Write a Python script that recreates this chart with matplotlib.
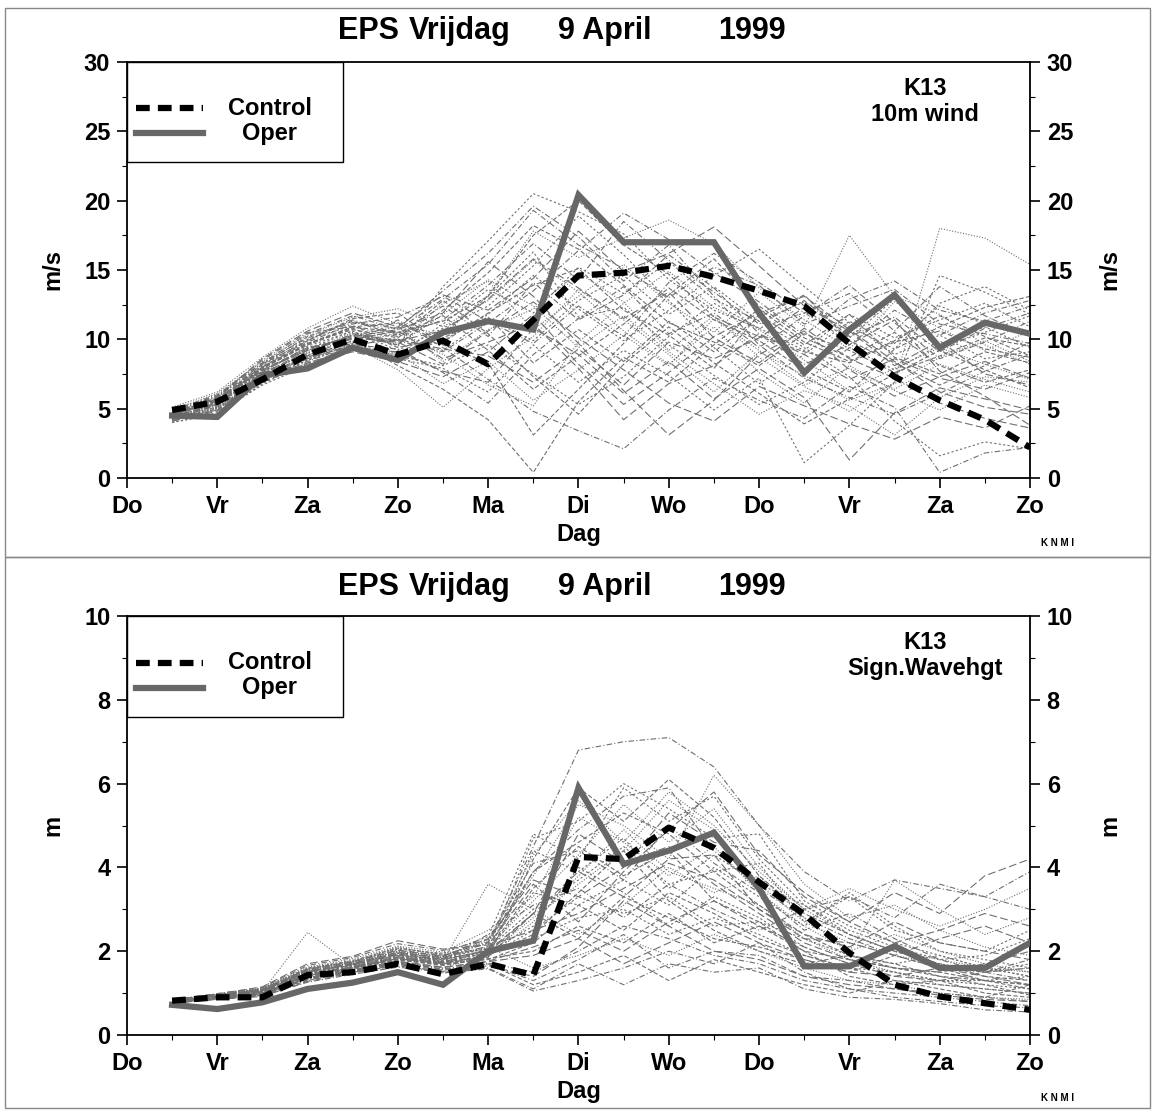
import matplotlib
matplotlib.use("Agg")
import matplotlib.pyplot as plt
from matplotlib.lines import Line2D
from matplotlib.patches import Rectangle
import numpy as np

plt.rcParams['font.family'] = ['Liberation Sans', 'DejaVu Sans']
plt.rcParams['font.weight'] = 'bold'
plt.rcParams['axes.labelweight'] = 'bold'

# time axis: half-day steps from Thursday (0) to the next Sunday (10)
days = ['Do', 'Vr', 'Za', 'Zo', 'Ma', 'Di', 'Wo', 'Do', 'Vr', 'Za', 'Zo']
steps = [0.5, 1.0, 1.5, 2.0, 2.5, 3.0, 3.5, 4.0, 4.5, 5.0,
         5.5, 6.0, 6.5, 7.0, 7.5, 8.0, 8.5, 9.0, 9.5, 10.0]

title_words = ['EPS', 'Vrijdag', '9 April', '1999']

# 10m wind (m/s)
wind_control = [4.9, 5.5, 7.1, 8.9, 10.0, 8.9, 9.9, 8.2, 11.4, 14.6,
                14.8, 15.3, 14.5, 13.5, 12.4, 9.7, 7.3, 5.6, 4.2, 2.2]
wind_oper = [4.5, 4.4, 7.4, 7.9, 9.4, 8.5, 10.5, 11.3, 10.7, 20.4,
             17.0, 17.0, 17.0, 11.9, 7.6, 10.7, 13.2, 9.4, 11.2, 10.4]
wind_members = [
    [4.6, 5.5, 7.8, 9.2, 10.3, 9.6, 12.1, 14.8, 18.2, 16.5, 13.9, 11.2, 9.8, 8.1, 10.4, 9.2, 7.6, 8.8, 10.1, 9.5],
    [4.3, 5.1, 7.2, 8.6, 9.8, 10.4, 8.9, 6.7, 5.2, 9.8, 12.6, 14.9, 12.3, 10.7, 8.5, 6.3, 7.9, 9.4, 8.2, 7.1],
    [4.9, 6.0, 8.3, 10.1, 11.2, 10.8, 13.5, 16.2, 19.6, 17.4, 14.2, 16.8, 13.1, 9.6, 7.2, 5.8, 4.6, 6.1, 7.7, 8.9],
    [4.1, 4.8, 6.9, 8.2, 9.1, 8.4, 7.3, 9.1, 11.8, 8.2, 5.3, 7.6, 10.2, 11.9, 13.1, 10.7, 8.4, 6.2, 5.1, 4.6],
    [4.5, 5.7, 7.6, 9.5, 10.6, 9.2, 10.8, 12.4, 15.3, 18.9, 16.1, 12.8, 9.4, 6.8, 8.9, 11.3, 9.7, 12.4, 11.1, 10.3],
    [4.7, 5.3, 8.0, 9.9, 11.5, 11.9, 9.6, 8.3, 3.1, 6.4, 9.7, 13.2, 15.8, 12.4, 10.1, 8.7, 10.5, 8.1, 6.9, 7.8],
    [4.2, 5.0, 7.1, 8.9, 9.5, 7.8, 5.1, 7.9, 10.2, 13.6, 11.4, 8.9, 6.2, 9.1, 7.4, 5.6, 6.8, 8.7, 9.9, 8.4],
    [4.8, 5.9, 8.5, 10.5, 10.9, 10.2, 11.4, 13.9, 16.9, 14.3, 18.5, 15.7, 13.4, 11.1, 12.8, 10.2, 11.6, 9.1, 10.8, 11.9],
    [4.4, 5.4, 7.4, 8.8, 10.1, 9.8, 8.2, 10.6, 12.7, 10.1, 7.8, 5.4, 4.1, 6.6, 5.2, 3.9, 2.8, 4.4, 3.6, 5.2],
    [4.0, 4.7, 6.7, 8.1, 9.3, 8.9, 9.9, 11.8, 14.6, 12.2, 9.9, 12.1, 14.6, 16.5, 13.8, 11.2, 8.9, 10.3, 8.6, 9.1],
    [4.6, 5.6, 7.9, 9.7, 10.7, 10.1, 12.8, 10.4, 7.3, 4.6, 8.2, 10.9, 8.3, 6.1, 3.9, 5.7, 7.5, 9.2, 7.8, 6.5],
    [5.1, 6.2, 8.7, 10.8, 12.4, 11.1, 10.3, 13.2, 17.8, 15.9, 17.3, 18.6, 16.9, 13.7, 11.4, 9.3, 12.7, 10.8, 9.2, 10.6],
    [4.3, 5.2, 7.0, 8.4, 9.6, 9.3, 7.6, 5.4, 8.9, 11.5, 13.8, 10.4, 11.9, 9.4, 11.7, 13.9, 11.2, 8.6, 9.8, 11.3],
    [4.5, 5.8, 7.7, 9.3, 10.2, 10.7, 11.9, 15.6, 13.1, 9.7, 6.3, 3.1, 5.6, 8.9, 10.6, 7.8, 5.9, 7.3, 8.4, 7.2],
    [4.7, 5.5, 8.1, 10.0, 11.0, 9.5, 13.8, 17.1, 20.5, 19.2, 17.6, 14.3, 12.1, 10.8, 9.2, 11.8, 10.1, 11.4, 12.6, 10.9],
    [4.2, 4.9, 7.3, 8.7, 9.9, 8.1, 6.4, 4.2, 0.4, 5.5, 8.7, 6.9, 9.6, 12.2, 9.8, 8.4, 9.9, 11.7, 10.2, 8.8],
    [4.9, 6.1, 8.4, 10.3, 11.6, 12.2, 10.9, 12.8, 15.7, 13.4, 10.6, 8.2, 10.9, 7.6, 5.4, 8.1, 6.3, 4.9, 6.7, 5.8],
    [4.4, 5.3, 7.5, 9.0, 10.4, 9.9, 9.1, 11.2, 13.5, 16.4, 19.1, 17.2, 14.8, 12.7, 10.3, 12.9, 14.2, 12.1, 11.3, 12.4],
    [4.6, 5.7, 7.8, 9.4, 10.0, 10.6, 8.6, 9.8, 11.1, 7.9, 4.2, 6.8, 8.1, 10.4, 8.9, 7.1, 8.6, 7.2, 6.4, 7.6],
    [4.1, 5.0, 7.0, 8.5, 9.4, 8.7, 10.4, 13.1, 16.3, 11.6, 12.3, 9.6, 7.4, 5.3, 6.9, 9.4, 7.8, 9.6, 10.9, 9.4],
    [4.8, 5.6, 8.2, 10.2, 11.3, 10.3, 11.7, 9.2, 6.4, 8.8, 11.1, 13.7, 11.4, 9.9, 7.8, 6.2, 9.3, 10.9, 12.3, 13.1],
    [4.3, 5.4, 7.4, 9.1, 10.5, 9.7, 12.6, 14.2, 10.7, 13.1, 15.4, 12.6, 10.5, 13.4, 10.9, 17.5, 13.1, 11.8, 9.6, 8.2],
    [4.5, 5.2, 7.6, 8.9, 9.7, 11.4, 9.4, 7.1, 4.8, 3.4, 2.1, 4.9, 7.2, 5.6, 4.3, 6.6, 5.1, 0.4, 1.8, 2.2],
    [4.7, 5.8, 8.6, 10.6, 11.9, 10.9, 13.2, 12.1, 14.4, 17.8, 14.9, 16.2, 18.1, 15.3, 12.4, 10.6, 8.1, 9.9, 7.5, 6.7],
    [4.0, 4.6, 6.8, 8.3, 9.2, 8.6, 7.9, 6.2, 9.6, 6.9, 9.2, 7.4, 4.9, 7.2, 1.1, 3.8, 6.9, 14.6, 13.4, 11.8],
    [4.6, 5.6, 7.9, 9.6, 10.8, 9.4, 10.1, 11.6, 8.3, 10.7, 8.4, 11.3, 9.1, 11.6, 13.2, 9.9, 8.3, 6.7, 8.1, 9.8],
    [4.4, 5.1, 7.3, 8.8, 10.3, 10.9, 8.4, 10.7, 12.2, 14.8, 12.7, 9.2, 11.7, 8.7, 6.6, 4.8, 6.9, 18.0, 17.3, 15.4],
    [4.8, 5.9, 8.0, 9.8, 11.1, 11.6, 13.1, 11.3, 9.7, 12.4, 10.2, 14.1, 16.2, 14.1, 11.9, 13.3, 10.6, 13.8, 11.7, 10.2],
    [4.2, 5.3, 7.1, 8.6, 9.6, 10.0, 9.3, 8.8, 6.9, 9.3, 6.7, 9.8, 8.6, 10.1, 12.3, 9.6, 11.4, 7.7, 5.9, 3.8],
    [4.6, 5.4, 7.7, 9.3, 10.6, 8.9, 11.1, 13.6, 11.9, 15.2, 13.3, 15.6, 12.9, 11.3, 9.4, 7.3, 4.1, 1.6, 2.6, 2.1],
    [4.5, 5.6, 7.9, 9.6, 10.9, 10.5, 11.3, 13.1, 17.5, 20.0, 16.8, 14.7, 11.6, 10.2, 9.1, 8.3, 9.8, 10.6, 9.3, 8.7],
    [4.3, 5.0, 7.2, 8.7, 9.5, 9.0, 6.8, 8.4, 5.6, 7.8, 10.3, 8.1, 11.5, 9.2, 6.7, 7.9, 6.4, 8.2, 7.1, 6.2],
    [4.8, 5.8, 8.2, 9.9, 11.4, 10.4, 12.4, 10.2, 14.1, 11.4, 13.2, 16.1, 13.7, 10.4, 8.2, 9.6, 12.1, 10.3, 11.9, 12.8],
    [4.6, 5.4, 7.5, 9.2, 10.1, 9.9, 10.6, 12.9, 15.8, 13.7, 11.5, 13.4, 10.1, 8.3, 10.8, 8.6, 7.2, 5.4, 4.3, 3.6],
    [4.2, 5.1, 7.1, 8.5, 9.7, 8.8, 8.1, 9.6, 7.5, 5.3, 7.3, 10.2, 12.6, 10.8, 11.9, 10.1, 12.9, 9.4, 10.5, 11.7],
    [4.7, 5.7, 8.0, 9.7, 10.9, 11.2, 9.8, 11.9, 13.9, 15.1, 12.1, 10.3, 7.9, 11.8, 9.6, 11.8, 8.7, 7.5, 9.1, 8.3],
    [4.4, 5.3, 7.6, 9.0, 10.4, 9.6, 11.8, 14.3, 12.4, 9.4, 11.7, 9.1, 6.8, 4.6, 6.3, 5.2, 3.1, 5.8, 7.3, 6.9],
    [4.9, 5.9, 8.3, 10.4, 11.7, 10.7, 12.9, 15.4, 19.3, 16.8, 15.1, 13.0, 15.2, 13.9, 11.1, 12.4, 13.6, 11.1, 10.4, 9.7],
    [4.1, 4.9, 6.9, 8.3, 9.3, 9.1, 7.7, 6.9, 10.8, 8.9, 6.1, 8.4, 5.7, 7.9, 5.8, 1.3, 4.7, 6.5, 5.7, 4.9],
    [4.5, 5.5, 7.7, 9.4, 10.2, 10.0, 9.2, 11.5, 9.9, 12.8, 14.6, 11.8, 13.8, 11.3, 12.7, 10.9, 9.3, 12.6, 13.8, 12.1],
]

# significant wave height (m)
wave_control = [0.82, 0.90, 0.90, 1.43, 1.50, 1.70, 1.45, 1.70, 1.43, 4.25,
                4.20, 4.95, 4.47, 3.65, 2.88, 1.96, 1.20, 0.92, 0.76, 0.60]
wave_oper = [0.72, 0.62, 0.78, 1.10, 1.25, 1.50, 1.20, 2.00, 2.25, 5.90,
             4.08, 4.40, 4.83, 3.50, 1.64, 1.64, 2.12, 1.60, 1.60, 2.20]
wave_members = [
    [0.80, 0.92, 1.02, 1.45, 1.62, 1.85, 1.72, 2.05, 3.9, 4.6, 5.3, 4.8, 3.9, 3.1, 2.4, 1.9, 1.6, 1.4, 1.3, 1.2],
    [0.78, 0.88, 0.95, 1.35, 1.55, 1.74, 1.60, 1.92, 2.8, 3.6, 4.4, 5.6, 4.9, 3.6, 2.7, 2.2, 1.9, 1.7, 1.5, 1.6],
    [0.83, 0.95, 1.08, 1.52, 1.70, 1.98, 1.84, 2.20, 4.5, 6.8, 7.0, 7.1, 6.4, 5.0, 3.9, 3.2, 3.7, 3.5, 3.3, 3.9],
    [0.76, 0.85, 0.92, 1.28, 1.48, 1.68, 1.55, 1.65, 1.4, 2.1, 3.2, 2.6, 2.0, 1.8, 1.4, 1.2, 1.1, 0.95, 0.85, 0.8],
    [0.81, 0.93, 1.05, 1.58, 1.75, 2.05, 1.95, 2.35, 4.8, 4.2, 5.9, 5.1, 5.7, 4.2, 3.1, 2.5, 2.1, 1.8, 1.9, 2.3],
    [0.79, 0.90, 1.00, 1.40, 1.60, 1.80, 1.68, 1.80, 2.2, 3.1, 2.5, 3.4, 2.9, 2.3, 1.9, 1.6, 1.3, 1.2, 1.1, 1.0],
    [0.82, 0.97, 1.12, 1.62, 1.82, 2.12, 1.98, 2.50, 3.3, 5.2, 4.6, 3.8, 4.5, 3.4, 2.6, 2.0, 2.4, 2.0, 1.7, 1.5],
    [0.77, 0.87, 0.98, 1.32, 1.52, 1.70, 1.48, 1.58, 1.05, 1.3, 1.6, 2.0, 1.7, 2.2, 1.5, 1.1, 0.9, 0.8, 0.7, 0.65],
    [0.84, 0.98, 1.15, 1.70, 1.88, 2.25, 2.05, 2.15, 3.6, 2.7, 3.9, 4.9, 5.8, 4.3, 3.4, 2.7, 2.2, 2.5, 2.9, 2.6],
    [0.80, 0.91, 1.03, 1.47, 1.64, 1.88, 1.76, 1.98, 2.6, 4.0, 3.4, 2.6, 3.3, 2.8, 2.1, 1.7, 1.5, 1.3, 1.2, 1.1],
    [0.78, 0.89, 1.01, 1.39, 1.58, 1.79, 1.66, 1.85, 4.2, 5.9, 5.1, 6.1, 5.2, 3.8, 2.9, 2.4, 2.0, 1.7, 1.4, 1.3],
    [0.83, 0.96, 1.09, 1.55, 1.72, 2.00, 1.88, 2.10, 1.6, 1.9, 2.3, 1.9, 2.4, 2.0, 1.6, 1.3, 1.2, 1.0, 0.9, 0.85],
    [0.81, 0.94, 1.06, 1.50, 1.68, 1.92, 1.80, 2.40, 3.1, 3.5, 2.8, 3.6, 3.0, 2.5, 3.0, 3.3, 2.8, 3.6, 3.3, 3.0],
    [0.79, 0.90, 1.00, 1.42, 1.60, 1.82, 1.70, 1.88, 2.9, 4.8, 4.1, 4.5, 3.6, 2.9, 2.2, 1.8, 1.6, 1.5, 1.7, 2.0],
    [0.82, 0.95, 1.10, 1.60, 1.78, 2.08, 1.92, 2.05, 4.7, 5.1, 6.0, 5.4, 4.7, 4.8, 3.2, 2.6, 2.2, 1.9, 1.6, 1.4],
    [0.77, 0.86, 0.96, 1.30, 1.50, 1.65, 1.52, 1.70, 1.2, 1.5, 1.9, 1.3, 1.8, 1.5, 1.2, 1.0, 1.3, 1.1, 0.9, 1.2],
    [0.80, 0.92, 1.04, 2.45, 1.65, 1.90, 1.78, 3.60, 3.0, 2.4, 3.1, 4.0, 3.4, 3.8, 2.8, 2.0, 3.7, 3.0, 2.4, 2.8],
    [0.84, 0.99, 1.13, 1.66, 1.85, 2.18, 2.02, 2.28, 4.1, 4.4, 3.7, 5.0, 4.1, 3.4, 2.5, 2.9, 2.3, 1.8, 1.5, 1.3],
    [0.78, 0.88, 0.99, 1.37, 1.56, 1.76, 1.62, 1.75, 1.9, 2.3, 1.7, 2.2, 2.7, 2.2, 1.8, 1.5, 1.4, 1.6, 1.4, 1.2],
    [0.81, 0.93, 1.06, 1.51, 1.69, 1.95, 1.82, 2.00, 3.4, 3.1, 3.7, 3.1, 4.0, 3.3, 2.6, 3.4, 2.6, 2.0, 1.8, 1.6],
    [0.79, 0.91, 1.02, 1.44, 1.62, 1.84, 1.73, 1.90, 2.4, 3.4, 4.4, 3.2, 2.5, 2.0, 1.7, 1.9, 1.7, 1.4, 1.2, 0.95],
    [0.83, 0.97, 1.11, 1.58, 1.76, 2.10, 1.90, 2.25, 3.8, 5.5, 5.0, 4.2, 6.2, 5.0, 3.6, 2.8, 3.1, 2.5, 2.1, 1.9],
    [0.76, 0.85, 0.94, 1.26, 1.45, 1.62, 1.50, 1.60, 1.1, 1.7, 1.2, 1.7, 1.5, 1.6, 1.1, 0.9, 0.85, 0.75, 0.6, 0.55],
    [0.82, 0.95, 1.07, 1.53, 1.71, 1.96, 1.85, 2.12, 2.5, 2.9, 3.5, 4.1, 3.7, 3.0, 2.3, 2.2, 1.9, 2.3, 2.6, 2.2],
    [0.80, 0.91, 1.03, 1.46, 1.63, 1.86, 1.74, 1.95, 4.4, 3.9, 4.7, 3.5, 4.3, 3.6, 3.1, 2.4, 2.0, 1.7, 1.5, 1.7],
    [0.79, 0.89, 1.00, 1.41, 1.59, 1.81, 1.69, 1.82, 2.0, 2.6, 2.2, 2.9, 2.2, 2.6, 2.0, 1.4, 1.2, 1.3, 1.0, 0.9],
    [0.81, 0.94, 1.08, 1.54, 1.73, 1.99, 1.86, 2.08, 3.2, 4.3, 5.5, 4.6, 5.4, 4.0, 3.0, 3.5, 3.0, 2.6, 3.0, 3.5],
    [0.78, 0.87, 0.97, 1.34, 1.53, 1.72, 1.58, 1.72, 1.5, 2.0, 2.6, 2.3, 1.9, 1.7, 1.3, 1.1, 1.0, 0.9, 0.8, 0.7],
    [0.82, 0.96, 1.09, 1.57, 1.74, 2.02, 1.88, 2.30, 3.7, 3.3, 4.0, 5.3, 4.6, 4.4, 3.3, 2.7, 3.4, 2.9, 3.8, 4.2],
    [0.80, 0.92, 1.04, 1.48, 1.66, 1.90, 1.77, 2.02, 2.3, 2.8, 3.0, 2.4, 2.8, 2.4, 1.9, 1.6, 1.5, 1.3, 1.3, 1.4],
    [0.80, 0.93, 1.05, 1.49, 1.67, 1.91, 1.79, 2.03, 3.5, 4.5, 3.8, 4.4, 3.2, 2.7, 2.0, 1.8, 1.6, 1.5, 1.3, 1.2],
    [0.79, 0.90, 1.01, 1.43, 1.61, 1.83, 1.71, 1.86, 2.7, 3.8, 4.9, 3.9, 3.5, 3.1, 2.3, 1.8, 1.5, 1.2, 1.1, 1.0],
    [0.82, 0.96, 1.09, 1.56, 1.75, 2.03, 1.89, 2.22, 3.9, 4.9, 5.7, 5.9, 4.4, 3.5, 2.8, 2.3, 1.9, 1.6, 1.5, 1.8],
    [0.78, 0.88, 0.98, 1.36, 1.54, 1.75, 1.61, 1.76, 2.1, 2.5, 2.0, 2.7, 3.2, 2.6, 2.1, 1.7, 1.4, 1.3, 1.5, 1.6],
    [0.81, 0.94, 1.07, 1.52, 1.70, 1.96, 1.83, 2.07, 3.0, 3.7, 4.5, 3.6, 3.9, 4.1, 2.7, 3.3, 2.5, 2.2, 2.0, 2.5],
    [0.80, 0.91, 1.03, 1.45, 1.63, 1.87, 1.75, 1.97, 2.9, 2.3, 3.3, 2.8, 2.3, 2.1, 1.8, 1.5, 1.9, 1.6, 1.3, 1.1],
    [0.83, 0.97, 1.10, 1.59, 1.77, 2.07, 1.93, 2.18, 4.3, 5.6, 4.6, 5.8, 5.0, 3.9, 3.0, 2.4, 2.0, 1.8, 1.6, 1.5],
    [0.77, 0.87, 0.97, 1.33, 1.51, 1.71, 1.57, 1.68, 1.3, 1.8, 2.4, 1.6, 2.0, 1.9, 1.4, 1.3, 1.1, 1.0, 0.9, 0.8],
    [0.81, 0.95, 1.06, 1.51, 1.69, 1.93, 1.81, 2.01, 2.9, 3.9, 3.3, 4.2, 4.3, 3.0, 2.4, 2.1, 2.7, 2.2, 2.0, 1.8],
    [0.80, 0.90, 1.02, 1.44, 1.61, 1.84, 1.72, 1.89, 2.5, 3.3, 2.9, 3.3, 2.6, 2.7, 2.3, 1.9, 1.7, 1.9, 1.6, 1.4],
]

member_styles = [(0, (4, 2)), (0, (1, 1.5)), (0, (5, 2, 1, 2)), (0, (7, 3)), (0, (2, 2))]
MEMBER_COL = '#6f6f6f'
OPER_COL = '#676767'
FS = 17


def draw_panel(ax, members, control, oper, ymax, ystep, yminor, unit, label):
    for i, m in enumerate(members):
        ax.plot(steps, m, color=MEMBER_COL, lw=0.8,
                linestyle=member_styles[i % len(member_styles)], zorder=1)
    ax.plot(steps, oper, color=OPER_COL, lw=4.5, solid_joinstyle='miter', zorder=3)
    ax.plot(steps, control, color='black', lw=4.5, dashes=(2.2, 1.3),
            dash_capstyle='butt', zorder=4)

    ax.set_xlim(0, 10)
    ax.set_ylim(0, ymax)
    ax.set_xticks(range(len(days)))
    ax.set_xticklabels(days)
    ax.set_xticks(np.arange(0.5, 10, 1.0), minor=True)
    ax.set_yticks(np.arange(0, ymax + 0.01, ystep))
    ax.set_yticks(np.arange(yminor, ymax, ystep), minor=True)
    ax.tick_params(which='major', direction='out', length=7, width=1.2,
                   labelsize=FS, pad=5)
    ax.tick_params(which='minor', direction='out', length=3.5, width=0.8)
    for s in ax.spines.values():
        s.set_linewidth(1.3)
    ax.set_ylabel(unit, fontsize=FS, labelpad=14)
    ax.set_xlabel('Dag', fontsize=FS, labelpad=4)

    # right-hand axis repeats the scale
    ax2 = ax.twinx()
    ax2.set_ylim(ax.get_ylim())
    ax2.set_yticks(ax.get_yticks())
    ax2.set_yticks(np.arange(yminor, ymax, ystep), minor=True)
    ax2.tick_params(which='major', direction='out', length=7, width=1.2,
                    labelsize=FS, pad=5)
    ax2.tick_params(which='minor', direction='out', length=3.5, width=0.8)
    ax2.set_ylabel(unit, fontsize=FS, rotation=90, labelpad=18)
    for s in ax2.spines.values():
        s.set_visible(False)

    # legend box in the upper left corner
    ax.add_patch(Rectangle((0, 0.76), 0.239, 0.24, transform=ax.transAxes,
                           fill=False, edgecolor='black', lw=1, zorder=5))
    ax.add_line(Line2D([0.01, 0.084], [0.889, 0.889], transform=ax.transAxes,
                       color='black', lw=4.5, dashes=(2.2, 1.3), zorder=6))
    ax.add_line(Line2D([0.01, 0.084], [0.829, 0.829], transform=ax.transAxes,
                       color=OPER_COL, lw=4.5, zorder=6))
    ax.text(0.158, 0.889, 'Control', transform=ax.transAxes, ha='center',
            va='center', fontsize=FS, zorder=6)
    ax.text(0.158, 0.829, 'Oper', transform=ax.transAxes, ha='center',
            va='center', fontsize=FS, zorder=6)

    ax.text(0.884, 0.965, 'K13\n' + label, transform=ax.transAxes, ha='center',
            va='top', fontsize=FS, linespacing=1.2)


def draw_title(y):
    for word, x in zip(title_words, [0.3203, 0.3993, 0.5252, 0.6528]):
        fig.text(x, y, word, fontsize=22, fontweight='bold', ha='center', va='center')


fig = plt.figure(figsize=(11.52, 11.11), dpi=100)

ax_top = fig.add_axes([0.1102, 0.5698, 0.7839, 0.3744])
draw_panel(ax_top, wind_members, wind_control, wind_oper, 30, 5, 2.5, 'm/s', '10m wind')
draw_title(0.972)

ax_bot = fig.add_axes([0.1102, 0.0684, 0.7839, 0.3771])
draw_panel(ax_bot, wave_members, wave_control, wave_oper, 10, 2, 1, 'm', 'Sign.Wavehgt')
draw_title(0.4717)

for y in (0.511, 0.0117):
    fig.text(0.918, y, 'K N M I', fontsize=7, ha='center', va='center')

# panel frames
fig.add_artist(Rectangle((0.004, 0.499), 0.994, 0.494, transform=fig.transFigure,
                         fill=False, edgecolor='#888888', lw=1))
fig.add_artist(Rectangle((0.004, 0.003), 0.994, 0.496, transform=fig.transFigure,
                         fill=False, edgecolor='#888888', lw=1))

fig.savefig('out.png', dpi=100, facecolor='white')
